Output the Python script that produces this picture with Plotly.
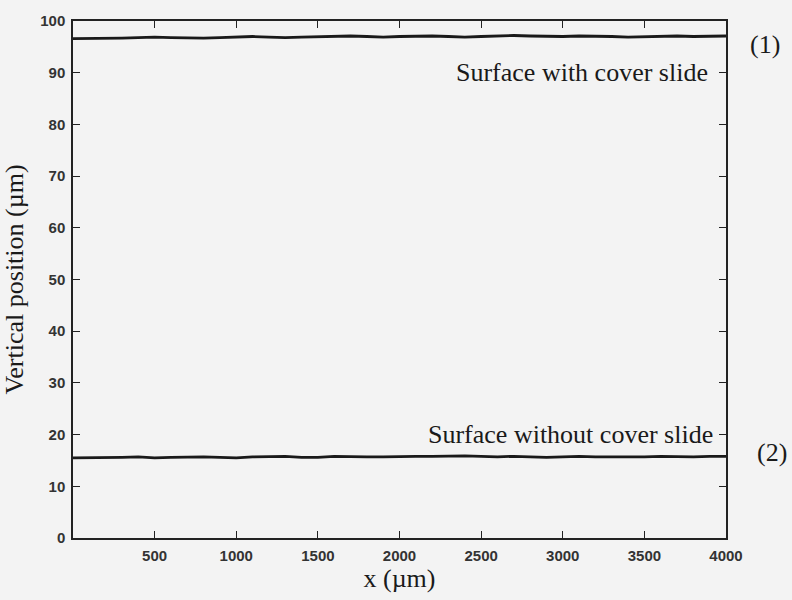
import plotly.graph_objects as go

# Surface profiles measured along x (µm)
x_um = list(range(0, 4001, 100))
with_cover = [96.6, 96.6, 96.6, 96.7, 96.8, 96.9, 96.8, 96.7, 96.7, 96.8,
              96.9, 97.0, 96.9, 96.8, 96.9, 97.0, 97.1, 97.1, 97.0, 96.9,
              97.0, 97.1, 97.1, 97.0, 96.9, 97.0, 97.1, 97.2, 97.1, 97.0,
              97.0, 97.1, 97.1, 97.0, 96.9, 97.0, 97.1, 97.1, 97.0, 97.1, 97.1]
without_cover = [15.5, 15.5, 15.6, 15.6, 15.7, 15.5, 15.6, 15.7, 15.7, 15.6,
                 15.5, 15.7, 15.7, 15.8, 15.6, 15.6, 15.8, 15.7, 15.7, 15.7,
                 15.8, 15.8, 15.8, 15.9, 15.9, 15.8, 15.7, 15.8, 15.7, 15.6,
                 15.7, 15.8, 15.7, 15.7, 15.6, 15.7, 15.8, 15.7, 15.7, 15.8, 15.8]

x_ticks = [500, 1000, 1500, 2000, 2500, 3000, 3500, 4000]
y_ticks = [0, 10, 20, 30, 40, 50, 60, 70, 80, 90, 100]

serif = "Liberation Serif, Times New Roman, serif"
sans = "Liberation Sans, Arial, sans-serif"
ink = "#1a1a1a"

fig = go.Figure()
for ys in (with_cover, without_cover):
    fig.add_trace(go.Scatter(x=x_um, y=ys, mode="lines",
                             line=dict(color=ink, width=2.8), showlegend=False))

axis_common = dict(showline=True, linecolor="#222", linewidth=1.5, mirror="ticks",
                   ticks="inside", ticklen=7, tickwidth=1.2, tickcolor="#222",
                   showgrid=False, zeroline=False, ticklabelstandoff=3,
                   tickfont=dict(family=sans, size=15, color="#333", weight="bold"))

fig.update_xaxes(range=[0, 4000], tickvals=x_ticks,
                 title=dict(text="x (µm)", font=dict(family=serif, size=26, color=ink),
                            standoff=6),
                 **axis_common)
fig.update_yaxes(range=[0, 100], tickvals=y_ticks,
                 title=dict(text="Vertical position (µm)",
                            font=dict(family=serif, size=26, color=ink), standoff=10),
                 **axis_common)

label_font = dict(family=serif, size=26, color=ink)
fig.add_annotation(x=3900, y=90, text="Surface with cover slide", showarrow=False,
                   xanchor="right", yanchor="middle", font=label_font)
fig.add_annotation(x=3930, y=20, text="Surface without cover slide", showarrow=False,
                   xanchor="right", yanchor="middle", font=label_font)
fig.add_annotation(x=1.06, y=95.5, xref="paper", text="(1)", showarrow=False,
                   xanchor="center", yanchor="middle", font=label_font)
fig.add_annotation(x=1.07, y=16.5, xref="paper", text="(2)", showarrow=False,
                   xanchor="center", yanchor="middle", font=label_font)

fig.update_layout(width=792, height=600,
                  margin=dict(l=69, r=66, t=17, b=57),
                  paper_bgcolor="#f3f3f3", plot_bgcolor="#f3f3f3")

fig.write_html("out.html")
